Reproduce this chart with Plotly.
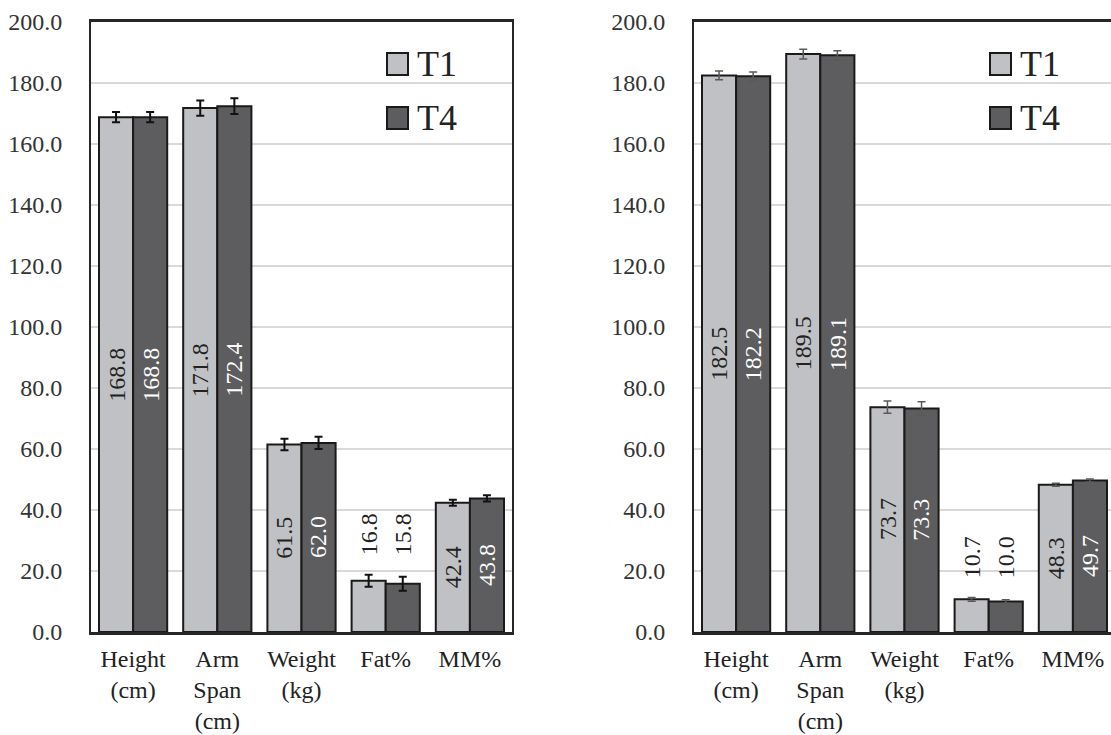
import plotly.graph_objects as go

categories = ["Height<br>(cm)", "Arm<br>Span<br>(cm)", "Weight<br>(kg)", "Fat%", "MM%"]
series_names = ["T1", "T4"]

left_t1 = [168.8, 171.8, 61.5, 16.8, 42.4]
left_t4 = [168.8, 172.4, 62.0, 15.8, 43.8]
left_t1_err = [1.7, 2.5, 1.9, 2.0, 1.0]
left_t4_err = [1.7, 2.6, 2.0, 2.3, 1.0]

right_t1 = [182.5, 189.5, 73.7, 10.7, 48.3]
right_t4 = [182.2, 189.1, 73.3, 10.0, 49.7]
right_t1_err = [1.4, 1.6, 2.0, 0.6, 0.5]
right_t4_err = [1.4, 1.5, 2.2, 0.6, 0.5]

y_ticks = [0, 20, 40, 60, 80, 100, 120, 140, 160, 180, 200]

C_T1 = "#c0c1c4"
C_T4 = "#5d5d5f"
FONT = "Liberation Serif"
W, H = 1111, 735

def px(x):
    return x / W

def py(y):
    return 1 - y / H

fig = go.Figure()

def add_panel(t1, t4, e1, e4, xa, ya, errcol, errthick):
    for name, vals, errs, col in ((series_names[0], t1, e1, C_T1), (series_names[1], t4, e4, C_T4)):
        fig.add_trace(go.Bar(
            x=categories, y=vals, name=name, xaxis=xa, yaxis=ya,
            marker=dict(color=col, line=dict(color="#1a1a1a", width=2)),
            error_y=dict(type="data", array=errs, visible=True, color=errcol,
                         thickness=errthick, width=4),
            showlegend=False, hoverinfo="skip"))

add_panel(left_t1, left_t4, left_t1_err, left_t4_err, "x", "y", "#111111", 2)
add_panel(right_t1, right_t4, right_t1_err, right_t4_err, "x2", "y2", "#5a5a5a", 1.5)

annotations = []
def add_labels(t1, t4, e1, e4, xr, yr):
    for i, cat in enumerate(categories):
        outside = max(t1[i], t4[i]) < 30
        top = max(t1[i] + e1[i], t4[i] + e4[i])
        for vals, shift, col in ((t1, -17, "#222222"), (t4, 17, "#ffffff")):
            v = vals[i]
            if outside:
                annotations.append(dict(
                    x=cat, y=top, xref=xr, yref=yr, text=f"{v:.1f}",
                    showarrow=False, textangle=-90, xshift=shift, yshift=17,
                    yanchor="bottom", xanchor="center",
                    font=dict(family=FONT, size=24, color="#222222")))
            else:
                annotations.append(dict(
                    x=cat, y=v / 2, xref=xr, yref=yr, text=f"{v:.1f}",
                    showarrow=False, textangle=-90, xshift=shift,
                    font=dict(family=FONT, size=24, color=col)))

add_labels(left_t1, left_t4, left_t1_err, left_t4_err, "x", "y")
add_labels(right_t1, right_t4, right_t1_err, right_t4_err, "x2", "y2")

# legends (manual, large)
shapes = []
for lx in (387, 990):
    for j, (name, col) in enumerate(zip(series_names, (C_T1, C_T4))):
        cy = 64 + j * 54
        shapes.append(dict(type="rect", xref="paper", yref="paper",
                           x0=px(lx), x1=px(lx + 21),
                           y0=py(cy + 11), y1=py(cy - 11),
                           fillcolor=col, line=dict(color="#1a1a1a", width=2)))
        annotations.append(dict(x=px(lx + 28), y=py(cy), xref="paper", yref="paper",
                                text=name, showarrow=False, xanchor="left", yanchor="middle",
                                font=dict(family=FONT, size=36, color="#222222")))

right_span = (1111 - 694) / 421 * 5

axis_common_y = dict(range=[0, 200], tickvals=y_ticks, tickformat=".1f",
                     showgrid=True, gridcolor="#d9d9d9", gridwidth=2,
                     showline=True, linecolor="#262626", linewidth=2,
                     ticks="", ticklabelstandoff=22, zeroline=False, automargin=False,
                     tickfont=dict(family=FONT, size=24, color="#333333"),
                     domain=[py(632), py(22)], fixedrange=True)
axis_common_x = dict(showline=True, linecolor="#262626", linewidth=3,
                     mirror=True, ticks="", showgrid=False, ticklabelstandoff=3,
                     automargin=False,
                     tickfont=dict(family=FONT, size=24, color="#222222"),
                     type="category", fixedrange=True)

fig.update_layout(
    width=W, height=H,
    margin=dict(l=0, r=0, t=0, b=0, pad=0, autoexpand=False),
    paper_bgcolor="white", plot_bgcolor="white",
    barmode="group", bargap=0.19, bargroupgap=0,
    xaxis=dict(domain=[px(91), px(512)], range=[-0.5, 4.5], anchor="y", **axis_common_x),
    yaxis=dict(anchor="x", mirror=True, **axis_common_y),
    xaxis2=dict(domain=[px(694), 1.0], range=[-0.5, -0.5 + right_span], anchor="y2", **axis_common_x),
    yaxis2=dict(anchor="x2", mirror=False, **axis_common_y),
    annotations=annotations, shapes=shapes,
    font=dict(family=FONT),
)

# remove the default page margin so the 1111x735 figure fills the window exactly
fig.write_html("out.html",
               config={"displayModeBar": False},
               post_script="document.body.style.margin='0';document.body.style.overflow='hidden';")
